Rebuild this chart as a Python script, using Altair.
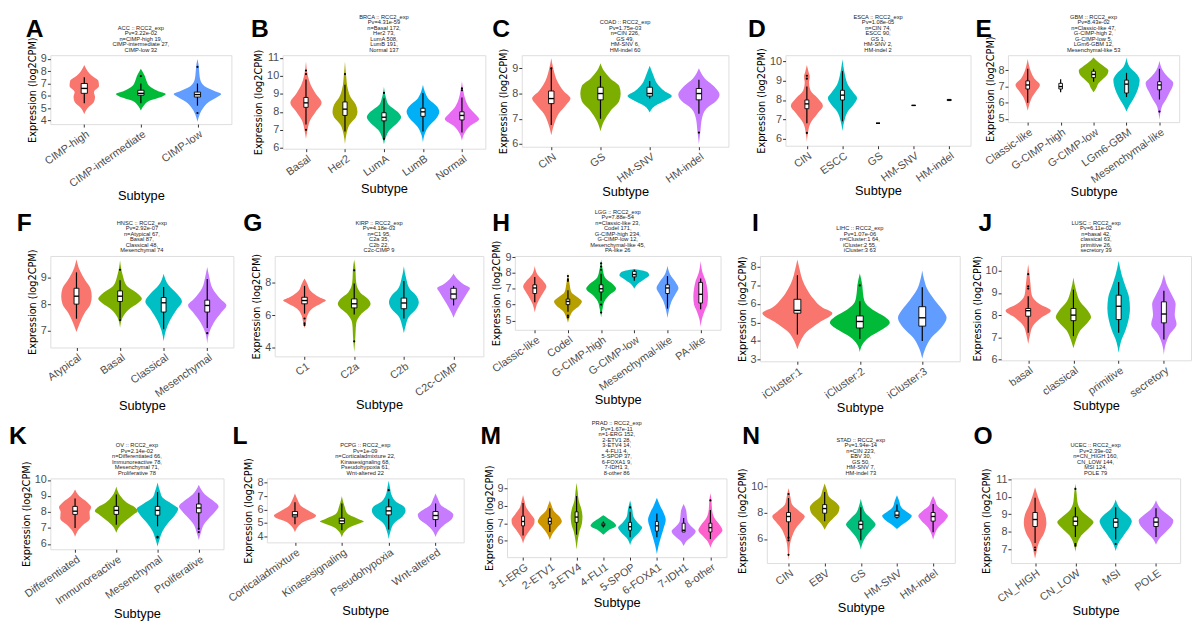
import altair as alt
import pandas as pd

# ---------------- data ----------------
# box = [lower whisker, q1, median, q3, upper whisker]
# violin = [[value, half-width], ...]  (empty list: no violin drawn)
# out = [[group number, value], ...]

A_groups = ["CIMP-high", "CIMP-intermediate", "CIMP-low"]
A_title = ["ACC :: RCC2_exp", "Pv=3.22e-02", "n=CIMP-high 19,", "CIMP-intermediate 27,", "CIMP-low 32"]
A_ydom = [3.7, 9.3]
A_yticks = [4, 5, 6, 7, 8, 9]
A_box = [[5.4, 6.2, 6.6, 7.0, 7.5], [5.4, 6.05, 6.2, 6.45, 7.0], [5.2, 5.9, 6.1, 6.3, 7.0]]
A_violin = [
    [[4.5, 0], [5.0, 0.06], [5.5, 0.17], [5.9, 0.19], [6.3, 0.17], [6.8, 0.26], [7.2, 0.25], [7.6, 0.14], [8.0, 0.06], [8.5, 0]],
    [[4.8, 0], [5.2, 0.05], [5.6, 0.15], [5.95, 0.38], [6.15, 0.44], [6.4, 0.3], [6.8, 0.15], [7.2, 0.1], [7.6, 0.07], [8.2, 0]],
    [[3.9, 0], [4.5, 0.04], [5.0, 0.1], [5.5, 0.2], [5.9, 0.35], [6.15, 0.42], [6.4, 0.3], [6.8, 0.12], [7.3, 0.05], [8.0, 0.03], [8.5, 0.02], [9.0, 0]],
]
A_out = [[2, 7.6], [3, 8.35], [3, 4.6]]

B_groups = ["Basal", "Her2", "LumA", "LumB", "Normal"]
B_title = ["BRCA :: RCC2_exp", "Pv=4.31e-59", "n=Basal 172,", "Her2 73,", "LumA 508,", "LumB 191,", "Normal 137"]
B_ydom = [5.95, 11.15]
B_yticks = [6, 7, 8, 9, 10, 11]
B_box = [[7.3, 8.25, 8.5, 8.8, 9.8], [6.9, 7.8, 8.15, 8.55, 9.5], [6.55, 7.5, 7.7, 7.95, 8.75], [6.9, 7.75, 8.0, 8.2, 9.05], [6.85, 7.55, 7.8, 8.0, 8.8]]
B_violin = [
    [[6.5, 0], [7.0, 0.04], [7.5, 0.1], [8.0, 0.25], [8.5, 0.4], [9.0, 0.25], [9.5, 0.12], [10.0, 0.05], [10.8, 0]],
    [[6.2, 0], [6.8, 0.04], [7.3, 0.12], [7.7, 0.28], [8.0, 0.32], [8.4, 0.28], [8.8, 0.15], [9.3, 0.07], [10.0, 0.03], [10.8, 0]],
    [[6.2, 0], [6.6, 0.05], [7.0, 0.15], [7.4, 0.35], [7.7, 0.44], [8.0, 0.35], [8.4, 0.12], [8.8, 0.05], [9.4, 0]],
    [[6.3, 0], [6.8, 0.05], [7.2, 0.15], [7.6, 0.33], [8.0, 0.42], [8.3, 0.36], [8.7, 0.15], [9.1, 0.05], [9.5, 0]],
    [[6.4, 0], [6.8, 0.06], [7.2, 0.2], [7.6, 0.44], [7.9, 0.33], [8.2, 0.2], [8.6, 0.1], [9.0, 0.05], [9.7, 0]],
]
B_out = [[1, 10.3], [1, 10.1], [1, 7.0], [2, 10.1], [3, 9.05], [3, 6.5], [5, 9.3], [5, 9.2]]

C_groups = ["CIN", "GS", "HM-SNV", "HM-indel"]
C_title = ["COAD :: RCC2_exp", "Pv=1.75e-03", "n=CIN 226,", "GS 49,", "HM-SNV 6,", "HM-indel 60"]
C_ydom = [5.89, 9.52]
C_yticks = [6, 7, 8, 9]
C_box = [[6.75, 7.6, 7.8, 8.1, 9.0], [7.0, 7.75, 8.0, 8.25, 8.7], [7.8, 7.9, 8.0, 8.25, 8.5], [7.2, 7.75, 8.0, 8.2, 8.55]]
C_violin = [
    [[6.35, 0], [6.8, 0.06], [7.2, 0.15], [7.55, 0.3], [7.8, 0.39], [8.1, 0.25], [8.5, 0.12], [9.0, 0.04], [9.4, 0]],
    [[6.5, 0], [6.9, 0.07], [7.3, 0.2], [7.7, 0.38], [8.0, 0.41], [8.3, 0.38], [8.6, 0.2], [8.9, 0.07], [9.2, 0]],
    [[7.25, 0], [7.5, 0.1], [7.75, 0.35], [7.9, 0.45], [8.1, 0.3], [8.4, 0.15], [8.7, 0.08], [9.1, 0]],
    [[6.0, 0], [6.5, 0.03], [7.0, 0.06], [7.4, 0.15], [7.7, 0.35], [7.95, 0.42], [8.3, 0.3], [8.6, 0.12], [9.0, 0]],
]
C_out = [[1, 9.0], [4, 6.45]]

D_groups = ["CIN", "ESCC", "GS", "HM-SNV", "HM-indel"]
D_title = ["ESCA :: RCC2_exp", "Pv=1.08e-05", "n=CIN 74,", "ESCC 90,", "GS 1,", "HM-SNV 2,", "HM-indel 2"]
D_ydom = [5.64, 10.31]
D_yticks = [6, 7, 8, 9, 10]
D_box = [[6.8, 7.55, 7.8, 8.0, 8.7], [6.9, 8.0, 8.25, 8.5, 9.5], [6.8, 6.8, 6.8, 6.8, 6.8], [7.72, 7.72, 7.72, 7.72, 7.72], [7.95, 7.97, 8.0, 8.03, 8.05]]
D_violin = [
    [[5.85, 0], [6.3, 0.03], [6.8, 0.1], [7.3, 0.3], [7.7, 0.45], [8.1, 0.3], [8.5, 0.1], [8.9, 0.06], [9.2, 0.08], [9.5, 0.04], [9.8, 0]],
    [[6.4, 0], [6.9, 0.05], [7.4, 0.15], [7.8, 0.33], [8.1, 0.41], [8.4, 0.3], [8.8, 0.15], [9.3, 0.07], [9.7, 0.03], [10.1, 0]],
    [], [], [],
]
D_out = [[1, 9.25], [1, 9.1], [1, 6.3]]

E_groups = ["Classic-like", "G-CIMP-high", "G-CIMP-low", "LGm6-GBM", "Mesenchymal-like"]
E_title = ["GBM :: RCC2_exp", "Pv=8.43e-02", "n=Classic-like 47,", "G-CIMP-high 2,", "G-CIMP-low 5,", "LGm6-GBM 12,", "Mesenchymal-like 53"]
E_ydom = [4.8, 8.94]
E_yticks = [5, 6, 7, 8]
E_box = [[6.0, 6.85, 7.1, 7.35, 8.1], [6.65, 6.85, 7.0, 7.2, 7.45], [7.3, 7.55, 7.75, 7.95, 8.1], [6.35, 6.6, 7.15, 7.4, 7.85], [6.2, 6.8, 7.1, 7.3, 8.1]]
E_violin = [
    [[5.5, 0], [5.9, 0.05], [6.3, 0.12], [6.7, 0.25], [7.1, 0.37], [7.5, 0.2], [7.9, 0.1], [8.3, 0.04], [8.7, 0]],
    [],
    [[6.65, 0], [6.9, 0.08], [7.2, 0.15], [7.5, 0.3], [7.8, 0.43], [8.0, 0.45], [8.2, 0.35], [8.5, 0.15], [8.8, 0]],
    [[5.45, 0], [5.8, 0.08], [6.2, 0.2], [6.6, 0.3], [7.0, 0.37], [7.4, 0.4], [7.8, 0.3], [8.2, 0.1], [8.8, 0]],
    [[4.95, 0], [5.4, 0.03], [5.8, 0.08], [6.2, 0.2], [6.6, 0.3], [7.0, 0.4], [7.2, 0.42], [7.6, 0.25], [8.0, 0.1], [8.6, 0]],
]
E_out = [[5, 5.45]]

F_groups = ["Atypical", "Basal", "Classical", "Mesenchymal"]
F_title = ["HNSC :: RCC2_exp", "Pv=2.92e-07", "n=Atypical 67,", "Basal 87,", "Classical 48,", "Mesenchymal 74"]
F_ydom = [6.36, 9.82]
F_yticks = [7, 8, 9]
F_box = [[7.45, 8.0, 8.3, 8.6, 9.2], [7.45, 8.1, 8.3, 8.5, 8.9], [7.05, 7.7, 8.05, 8.25, 8.65], [7.1, 7.7, 7.95, 8.15, 8.95]]
F_violin = [
    [[6.95, 0], [7.3, 0.08], [7.7, 0.2], [8.0, 0.32], [8.3, 0.35], [8.6, 0.32], [8.9, 0.2], [9.3, 0.07], [9.7, 0]],
    [[7.1, 0], [7.5, 0.06], [7.8, 0.2], [8.05, 0.42], [8.2, 0.5], [8.4, 0.4], [8.7, 0.15], [9.1, 0.06], [9.65, 0]],
    [[6.6, 0], [7.0, 0.05], [7.4, 0.15], [7.8, 0.3], [8.1, 0.42], [8.4, 0.3], [8.7, 0.12], [9.15, 0]],
    [[6.5, 0], [6.9, 0.04], [7.3, 0.15], [7.7, 0.33], [7.95, 0.44], [8.2, 0.3], [8.6, 0.12], [9.0, 0.05], [9.4, 0]],
]
F_out = [[2, 9.3], [2, 7.4], [4, 6.9]]

G_groups = ["C1", "C2a", "C2b", "C2c-CIMP"]
G_title = ["KIRP :: RCC2_exp", "Pv=4.18e-03", "n=C1 95,", "C2a 35,", "C2b 22,", "C2c-CIMP 9"]
G_ydom = [3.48, 9.63]
G_yticks = [4, 6, 8]
G_box = [[6.1, 6.7, 6.9, 7.1, 7.8], [6.05, 6.45, 6.7, 7.0, 7.95], [5.8, 6.4, 6.75, 7.05, 8.1], [6.6, 7.0, 7.3, 7.65, 7.8]]
G_violin = [
    [[5.2, 0], [5.6, 0.03], [6.0, 0.06], [6.4, 0.15], [6.75, 0.35], [6.9, 0.43], [7.1, 0.3], [7.5, 0.12], [7.9, 0.06], [8.25, 0]],
    [[3.75, 0], [4.5, 0.02], [5.5, 0.04], [6.1, 0.15], [6.5, 0.3], [6.7, 0.33], [7.0, 0.28], [7.4, 0.12], [8.0, 0.04], [9.0, 0.02], [9.4, 0]],
    [[4.9, 0], [5.4, 0.04], [5.9, 0.1], [6.4, 0.25], [6.8, 0.3], [7.2, 0.25], [7.6, 0.12], [8.2, 0.05], [9.0, 0]],
    [[5.85, 0], [6.2, 0.05], [6.6, 0.12], [7.0, 0.2], [7.4, 0.28], [7.65, 0.33], [7.9, 0.2], [8.2, 0.08], [8.55, 0]],
]
G_out = [[1, 5.8], [1, 5.5], [1, 5.4], [2, 8.75], [2, 4.4]]

H_groups = ["Classic-like", "Codel", "G-CIMP-high", "G-CIMP-low", "Mesenchymal-like", "PA-like"]
H_title = ["LGG :: RCC2_exp", "Pv=7.88e-54", "n=Classic-like 23,", "Codel 171,", "G-CIMP-high 234,", "G-CIMP-low 12,", "Mesenchymal-like 45,", "PA-like 26"]
H_ydom = [4.41, 9.07]
H_yticks = [5, 6, 7, 8, 9]
H_box = [[6.15, 6.7, 7.05, 7.25, 7.75], [5.55, 6.0, 6.2, 6.35, 6.9], [6.25, 6.8, 7.0, 7.25, 7.95], [7.5, 7.75, 7.9, 8.1, 8.2], [5.75, 6.7, 7.05, 7.25, 7.8], [5.7, 6.1, 6.65, 7.4, 7.65]]
H_violin = [
    [[5.5, 0], [6.0, 0.06], [6.5, 0.18], [6.9, 0.3], [7.15, 0.35], [7.5, 0.25], [7.9, 0.08], [8.45, 0]],
    [[4.85, 0], [5.2, 0.05], [5.6, 0.15], [5.95, 0.35], [6.2, 0.42], [6.45, 0.3], [6.8, 0.1], [7.3, 0.05], [8.0, 0]],
    [[5.2, 0], [5.7, 0.04], [6.2, 0.1], [6.6, 0.25], [7.0, 0.45], [7.3, 0.35], [7.7, 0.12], [8.2, 0.05], [8.85, 0]],
    [[7.0, 0], [7.3, 0.1], [7.6, 0.3], [7.85, 0.45], [8.05, 0.4], [8.25, 0]],
    [[5.15, 0], [5.7, 0.05], [6.2, 0.12], [6.7, 0.25], [7.05, 0.33], [7.4, 0.25], [7.9, 0.08], [8.45, 0]],
    [[4.6, 0], [5.1, 0.04], [5.6, 0.12], [6.0, 0.2], [6.5, 0.22], [7.0, 0.2], [7.5, 0.15], [8.0, 0.06], [8.75, 0]],
]
H_out = [[2, 7.6], [2, 7.5], [2, 7.8], [2, 5.3], [2, 5.2], [3, 8.2], [3, 8.4], [3, 8.6], [3, 6.0], [3, 5.5]]

I_groups = ["iCluster:1", "iCluster:2", "iCluster:3"]
I_title = ["LIHC :: RCC2_exp", "Pv=1.07e-06", "n=iCluster:1 64,", "iCluster:2 55,", "iCluster:3 63"]
I_ydom = [2.9, 8.59]
I_yticks = [3, 4, 5, 6, 7, 8]
I_box = [[4.35, 5.5, 5.65, 6.25, 7.55], [4.1, 4.7, 5.05, 5.35, 6.15], [4.0, 4.8, 5.25, 5.85, 6.9]]
I_violin = [
    [[3.55, 0], [4.0, 0.05], [4.5, 0.15], [5.0, 0.35], [5.5, 0.56], [5.8, 0.4], [6.3, 0.25], [6.8, 0.15], [7.3, 0.08], [7.8, 0.04], [8.4, 0]],
    [[3.4, 0], [3.8, 0.04], [4.2, 0.15], [4.6, 0.35], [5.0, 0.48], [5.3, 0.4], [5.7, 0.2], [6.1, 0.08], [6.6, 0.05], [7.0, 0.04], [7.65, 0]],
    [[3.05, 0], [3.6, 0.05], [4.2, 0.15], [4.7, 0.3], [5.25, 0.39], [5.7, 0.32], [6.2, 0.2], [6.8, 0.08], [7.3, 0.03], [7.8, 0]],
]
I_out = [[2, 7.0]]

J_groups = ["basal", "classical", "primitive", "secretory"]
J_title = ["LUSC :: RCC2_exp", "Pv=6.11e-02", "n=basal 42,", "classical 63,", "primitive 26,", "secretory 39"]
J_ydom = [5.96, 10.67]
J_yticks = [6, 7, 8, 9, 10]
J_box = [[7.2, 7.95, 8.2, 8.3, 8.85], [7.05, 7.75, 8.0, 8.3, 9.15], [7.2, 7.8, 8.4, 8.9, 9.5], [6.9, 7.65, 8.05, 8.6, 9.1]]
J_violin = [
    [[6.7, 0], [7.1, 0.04], [7.5, 0.1], [7.9, 0.3], [8.2, 0.5], [8.5, 0.25], [8.9, 0.08], [9.4, 0.05], [9.8, 0.03], [10.3, 0]],
    [[6.5, 0], [6.9, 0.06], [7.3, 0.15], [7.7, 0.33], [7.9, 0.39], [8.2, 0.32], [8.6, 0.15], [9.1, 0.06], [9.7, 0]],
    [[6.3, 0], [6.8, 0.05], [7.3, 0.15], [7.8, 0.22], [8.3, 0.25], [8.8, 0.23], [9.3, 0.15], [9.8, 0.07], [10.45, 0]],
    [[6.2, 0], [6.7, 0.04], [7.1, 0.12], [7.6, 0.28], [8.0, 0.24], [8.5, 0.26], [8.9, 0.18], [9.3, 0.08], [9.85, 0]],
]
J_out = [[1, 9.85], [1, 9.3], [1, 9.2]]

K_groups = ["Differentiated", "Immunoreactive", "Mesenchymal", "Proliferative"]
K_title = ["OV :: RCC2_exp", "Pv=2.14e-02", "n=Differentiated 66,", "Immunoreactive 78,", "Mesenchymal 71,", "Proliferative 78"]
K_ydom = [5.67, 10.1]
K_yticks = [6, 7, 8, 9, 10]
K_box = [[7.0, 7.85, 8.05, 8.35, 8.85], [7.2, 7.85, 8.1, 8.35, 9.1], [7.1, 7.8, 8.1, 8.35, 9.25], [7.0, 7.95, 8.25, 8.5, 9.2]]
K_violin = [
    [[6.45, 0], [6.8, 0.06], [7.2, 0.2], [7.6, 0.36], [8.0, 0.35], [8.3, 0.39], [8.6, 0.3], [9.0, 0.1], [9.4, 0]],
    [[6.7, 0], [7.1, 0.08], [7.5, 0.25], [7.9, 0.45], [8.05, 0.52], [8.3, 0.45], [8.6, 0.25], [9.0, 0.1], [9.6, 0]],
    [[5.85, 0], [6.3, 0.05], [6.8, 0.12], [7.3, 0.25], [7.8, 0.42], [8.2, 0.5], [8.5, 0.35], [8.9, 0.12], [9.3, 0.06], [9.85, 0]],
    [[6.25, 0], [6.7, 0.05], [7.2, 0.12], [7.7, 0.28], [8.1, 0.42], [8.35, 0.48], [8.7, 0.35], [9.1, 0.15], [9.7, 0]],
]
K_out = [[3, 6.45], [3, 6.4], [4, 6.95], [4, 6.75]]

L_groups = ["Corticaladmixture", "Kinasesignaling", "Pseudohypoxia", "Wnt-altered"]
L_title = ["PCPG :: RCC2_exp", "Pv=1e-09", "n=Corticaladmixture 22,", "Kinasesignaling 68,", "Pseudohypoxia 61,", "Wnt-altered 22"]
L_ydom = [3.54, 8.33]
L_yticks = [4, 5, 6, 7, 8]
L_box = [[4.9, 5.45, 5.6, 5.85, 6.55], [4.45, 4.95, 5.15, 5.35, 6.45], [4.5, 5.6, 5.9, 6.2, 6.8], [4.7, 5.25, 5.55, 5.85, 6.45]]
L_violin = [
    [[4.3, 0], [4.7, 0.06], [5.1, 0.2], [5.4, 0.42], [5.55, 0.45], [5.8, 0.35], [6.2, 0.15], [6.7, 0.06], [7.2, 0]],
    [[3.9, 0], [4.3, 0.05], [4.7, 0.18], [5.0, 0.4], [5.1, 0.47], [5.3, 0.35], [5.7, 0.12], [6.2, 0.06], [7.0, 0]],
    [[3.8, 0], [4.4, 0.04], [5.0, 0.12], [5.5, 0.3], [5.9, 0.36], [6.2, 0.33], [6.6, 0.15], [7.1, 0.06], [7.6, 0.03], [8.15, 0]],
    [[3.95, 0], [4.4, 0.06], [4.9, 0.2], [5.3, 0.35], [5.6, 0.38], [5.9, 0.3], [6.3, 0.12], [6.8, 0.05], [7.2, 0]],
]
L_out = [[3, 7.45]]

M_groups = ["1-ERG", "2-ETV1", "3-ETV4", "4-FLI1", "5-SPOP", "6-FOXA1", "7-IDH1", "8-other"]
M_title = ["PRAD :: RCC2_exp", "Pv=1.67e-11", "n=1-ERG 152,", "2-ETV1 28,", "3-ETV4 14,", "4-FLI1 4,", "5-SPOP 37,", "6-FOXA1 9,", "7-IDH1 3,", "8-other 86"]
M_ydom = [5.07, 9.55]
M_yticks = [6, 7, 8, 9]
M_box = [[6.3, 6.85, 7.1, 7.4, 8.15], [6.5, 6.95, 7.1, 7.3, 7.85], [6.35, 7.05, 7.35, 7.65, 8.55], [6.75, 6.85, 6.9, 7.0, 7.1],
         [6.2, 6.6, 6.8, 7.05, 7.65], [6.2, 6.55, 6.85, 7.1, 7.55], [6.5, 6.5, 6.6, 7.0, 7.3], [6.1, 6.5, 6.75, 7.0, 7.75]]
M_violin = [
    [[5.85, 0], [6.2, 0.08], [6.6, 0.25], [7.0, 0.42], [7.2, 0.43], [7.5, 0.3], [7.9, 0.12], [8.3, 0.05], [8.6, 0]],
    [[6.05, 0], [6.4, 0.1], [6.8, 0.3], [7.1, 0.45], [7.4, 0.35], [7.7, 0.15], [8.0, 0.07], [8.3, 0]],
    [[5.5, 0], [6.0, 0.04], [6.5, 0.1], [7.0, 0.2], [7.4, 0.22], [7.8, 0.18], [8.3, 0.08], [8.8, 0.04], [9.3, 0]],
    [[6.35, 0], [6.6, 0.2], [6.85, 0.48], [7.1, 0.35], [7.3, 0.15], [7.45, 0]],
    [[5.75, 0], [6.1, 0.1], [6.5, 0.35], [6.75, 0.45], [7.0, 0.3], [7.4, 0.12], [7.8, 0.08], [8.3, 0]],
    [[5.25, 0], [5.7, 0.06], [6.2, 0.15], [6.7, 0.25], [7.2, 0.33], [7.6, 0.25], [8.0, 0.12], [8.45, 0]],
    [[5.7, 0], [6.0, 0.12], [6.3, 0.35], [6.55, 0.45], [6.8, 0.3], [7.1, 0.15], [7.4, 0.12], [7.7, 0.1], [8.1, 0]],
    [[5.6, 0], [6.0, 0.12], [6.3, 0.3], [6.6, 0.45], [6.9, 0.35], [7.3, 0.15], [7.8, 0.06], [8.3, 0.04], [8.7, 0]],
]
M_out = [[5, 7.9], [8, 8.3]]

N_groups = ["CIN", "EBV", "GS", "HM-SNV", "HM-indel"]
N_title = ["STAD :: RCC2_exp", "Pv=1.94e-14", "n=CIN 223,", "EBV 30,", "GS 50,", "HM-SNV 7,", "HM-indel 73"]
N_ydom = [4.18, 10.58]
N_yticks = [6, 8, 10]
N_box = [[6.0, 7.3, 7.7, 8.0, 9.1], [7.35, 7.95, 8.3, 8.6, 9.55], [5.9, 6.75, 7.1, 7.35, 8.4], [7.55, 7.65, 7.8, 8.1, 8.6], [6.5, 7.35, 7.7, 8.0, 8.65]]
N_violin = [
    [[4.4, 0], [5.0, 0.02], [5.6, 0.04], [6.2, 0.1], [6.8, 0.2], [7.3, 0.35], [7.7, 0.45], [8.1, 0.3], [8.6, 0.1], [9.2, 0.05], [9.85, 0]],
    [[6.7, 0], [7.1, 0.08], [7.6, 0.25], [8.0, 0.38], [8.4, 0.41], [8.8, 0.3], [9.2, 0.12], [9.7, 0.06], [10.2, 0]],
    [[5.2, 0], [5.7, 0.05], [6.2, 0.15], [6.7, 0.3], [7.1, 0.41], [7.5, 0.3], [8.0, 0.12], [8.5, 0.05], [9.05, 0]],
    [[6.75, 0], [7.1, 0.15], [7.5, 0.35], [7.75, 0.41], [8.0, 0.3], [8.4, 0.12], [8.9, 0.06], [9.3, 0]],
    [[5.95, 0], [6.4, 0.05], [6.9, 0.15], [7.4, 0.33], [7.75, 0.41], [8.1, 0.3], [8.5, 0.12], [8.9, 0.06], [9.25, 0]],
]
N_out = [[1, 9.4], [1, 4.8], [1, 5.9], [1, 6.1]]

O_groups = ["CN_HIGH", "CN_LOW", "MSI", "POLE"]
O_title = ["UCEC :: RCC2_exp", "Pv=2.39e-02", "n=CN_HIGH 160,", "CN_LOW 144,", "MSI 124,", "POLE 79"]
O_ydom = [6.21, 11.05]
O_yticks = [7, 8, 9, 10, 11]
O_box = [[7.35, 8.3, 8.7, 9.1, 9.95], [7.7, 8.35, 8.6, 8.85, 9.4], [7.55, 8.25, 8.55, 8.75, 9.4], [7.7, 8.3, 8.55, 8.8, 9.35]]
O_violin = [
    [[6.45, 0], [6.9, 0.04], [7.4, 0.1], [7.9, 0.22], [8.5, 0.28], [9.0, 0.25], [9.5, 0.15], [10.0, 0.07], [10.55, 0]],
    [[6.85, 0], [7.3, 0.04], [7.8, 0.15], [8.25, 0.35], [8.55, 0.45], [8.8, 0.35], [9.2, 0.15], [9.7, 0.05], [10.2, 0.03], [10.75, 0]],
    [[6.9, 0], [7.3, 0.06], [7.8, 0.2], [8.3, 0.35], [8.6, 0.4], [8.9, 0.32], [9.3, 0.12], [9.85, 0]],
    [[7.25, 0], [7.6, 0.08], [8.0, 0.25], [8.4, 0.4], [8.65, 0.43], [8.9, 0.33], [9.3, 0.12], [9.8, 0]],
]
O_out = [[1, 7.1], [1, 6.95], [2, 10.45], [2, 7.3], [2, 7.2], [3, 7.3]]

_ns = globals()
PANELS = {k: dict(groups=_ns[k + "_groups"], title=_ns[k + "_title"], ydom=_ns[k + "_ydom"],
                  yticks=_ns[k + "_yticks"], box=_ns[k + "_box"], violin=_ns[k + "_violin"],
                  out=_ns[k + "_out"]) for k in "ABCDEFGHIJKLMNO"}

# ---------------- styling / layout ----------------
HUE = {
    2: ["#F8766D", "#00BFC4"],
    3: ["#F8766D", "#00BA38", "#619CFF"],
    4: ["#F8766D", "#7CAE00", "#00BFC4", "#C77CFF"],
    5: ["#F8766D", "#A3A500", "#00BF7D", "#00B0F6", "#E76BF3"],
    6: ["#F8766D", "#B79F00", "#00BA38", "#00BFC4", "#619CFF", "#F564E3"],
    8: ["#F8766D", "#CD9600", "#7CAE00", "#00BE67", "#00BFC4", "#00A9FF", "#C77CFF", "#FF61CC"],
}
ROWS = [["A", "B", "C", "D", "E"], ["F", "G", "H", "I", "J"], ["K", "L", "M", "N", "O"]]
# width, height, left gap, letter x offset
LAYOUT = {
    "A": (184, 70, 22, -25), "B": (206, 95, 50, -32), "C": (210, 93, 35, -30), "D": (188, 92, 56, -38), "E": (174, 68, 36, -33),
    "F": (186, 93, 34, -34), "G": (212, 102, 40, -32), "H": (209, 75, 30, -23), "I": (203, 107, 38, -8), "J": (193, 106, 40, -23),
    "K": (176, 72, 42, -42), "L": (200, 65, 42, -35), "M": (223, 80, 42, -27), "N": (191, 86, 39, -25), "O": (172, 86, 55, -38),
}
ROW_LETTER_Y = [-38, -45, -55]
BW = 0.055
LH = 5.6
FONT = "Liberation Sans"
NARROW = "Liberation Sans Narrow, DejaVu Sans Condensed, Liberation Sans"


def make_panel(key, row):
    p = PANELS[key]
    w, h, gap, ldx = LAYOUT[key]
    groups = p["groups"]
    n = len(groups)
    vidx = [i for i, prof in enumerate(p["violin"]) if prof]
    pal = HUE[len(vidx)]
    vrows = []
    for k, i in enumerate(vidx):
        for y, hw in p["violin"][i]:
            vrows.append({"g": groups[i], "y": y, "xl": i + 1 - hw, "xr": i + 1 + hw, "c": pal[k]})
    vdf = pd.DataFrame(vrows)
    bdf = pd.DataFrame([{"g": groups[i], "x": i + 1, "bl": i + 1 - BW, "br": i + 1 + BW,
                         "lo": b[0], "q1": b[1], "med": b[2], "q3": b[3], "hi": b[4]}
                        for i, b in enumerate(p["box"])])
    odf = pd.DataFrame([{"x": o[0], "v": o[1]} for o in p["out"]])

    xs = alt.Scale(domain=[0.4, n + 0.6], nice=False, zero=False)
    ys = alt.Scale(domain=p["ydom"], nice=False, zero=False)
    label_expr = "[" + ",".join("'%s'" % g for g in groups) + "][datum.value - 1]"
    xaxis = alt.Axis(values=list(range(1, n + 1)), labelExpr=label_expr, labelAngle=-35,
                     labelFontSize=11, labelColor="#4D4D4D", labelFont=FONT, labelFlush=False,
                     labelOverlap=False, labelPadding=1, tickSize=3, tickColor="#333333",
                     domain=False, grid=False, title="Subtype", titleFont=FONT, titleFontSize=13,
                     titleFontWeight="normal", titleColor="black", titlePadding=1, minExtent=0)
    yaxis = alt.Axis(values=p["yticks"], labelFontSize=11, labelColor="#4D4D4D", labelFont=FONT,
                     labelFlush=False, labelOverlap=False, labelPadding=1, tickSize=3,
                     tickColor="#333333", domain=False, grid=False, title="Expression (log2CPM)",
                     titleFont=NARROW, titleFontSize=11, titleFontWeight="normal",
                     titleColor="black", titlePadding=3, minExtent=0)

    def X(f, **kw):
        return alt.X(f, scale=xs, axis=xaxis, **kw)

    def Y(f):
        return alt.Y(f, scale=ys, axis=yaxis)

    violin = alt.Chart(vdf).mark_area(orient="horizontal", interpolate="monotone", opacity=1).encode(
        y=Y("y:Q"), x=X("xl:Q", stack=None), x2="xr:Q",
        color=alt.Color("c:N", scale=None), detail="g:N",
    )
    base = alt.Chart(bdf)
    whisk = base.mark_rule(color="black", strokeWidth=1.2).encode(x=X("x:Q"), y=Y("lo:Q"), y2="hi:Q")
    box = base.mark_rect(fill="white", stroke="black", strokeWidth=0.9).encode(
        x=X("bl:Q"), x2="br:Q", y=Y("q1:Q"), y2="q3:Q")
    med = base.mark_rule(color="black", strokeWidth=1.4).encode(x=X("bl:Q"), x2="br:Q", y=Y("med:Q"))
    outl = alt.Chart(odf).mark_circle(color="black", size=5, opacity=1).encode(x=X("x:Q"), y=Y("v:Q"))
    spacer = alt.Chart(pd.DataFrame({"k": [key]})).mark_rule(opacity=0).encode(
        x=alt.value(-gap), x2=alt.value(-gap), y=alt.value(0), y2=alt.value(1))
    letter = alt.Chart(pd.DataFrame({"t": [key]})).mark_text(
        font=FONT, fontSize=25, fontWeight="bold", align="left", baseline="top", color="black").encode(
        text="t:N", x=alt.value(ldx), y=alt.value(ROW_LETTER_Y[row]))
    nl = len(p["title"])
    head = alt.Chart(pd.DataFrame({"t": ["\n".join(p["title"])]})).mark_text(
        font=FONT, fontSize=5.8, lineHeight=LH, lineBreak="\n", align="center", baseline="top",
        color="#222222").encode(text="t:N", x=alt.value(w / 2), y=alt.value(-nl * LH - 3))

    return alt.layer(violin, whisk, box, med, outl, spacer, letter, head).properties(width=w, height=h)


rows = [alt.hconcat(*[make_panel(k, r) for k in ks], spacing=0) for r, ks in enumerate(ROWS)]
chart = alt.vconcat(*rows, spacing=4).properties(padding=0).configure_view(
    stroke="#8C8C8C", strokeWidth=1).configure(background="white")

chart.save("out.html", embed_options={"renderer": "svg", "actions": False})
